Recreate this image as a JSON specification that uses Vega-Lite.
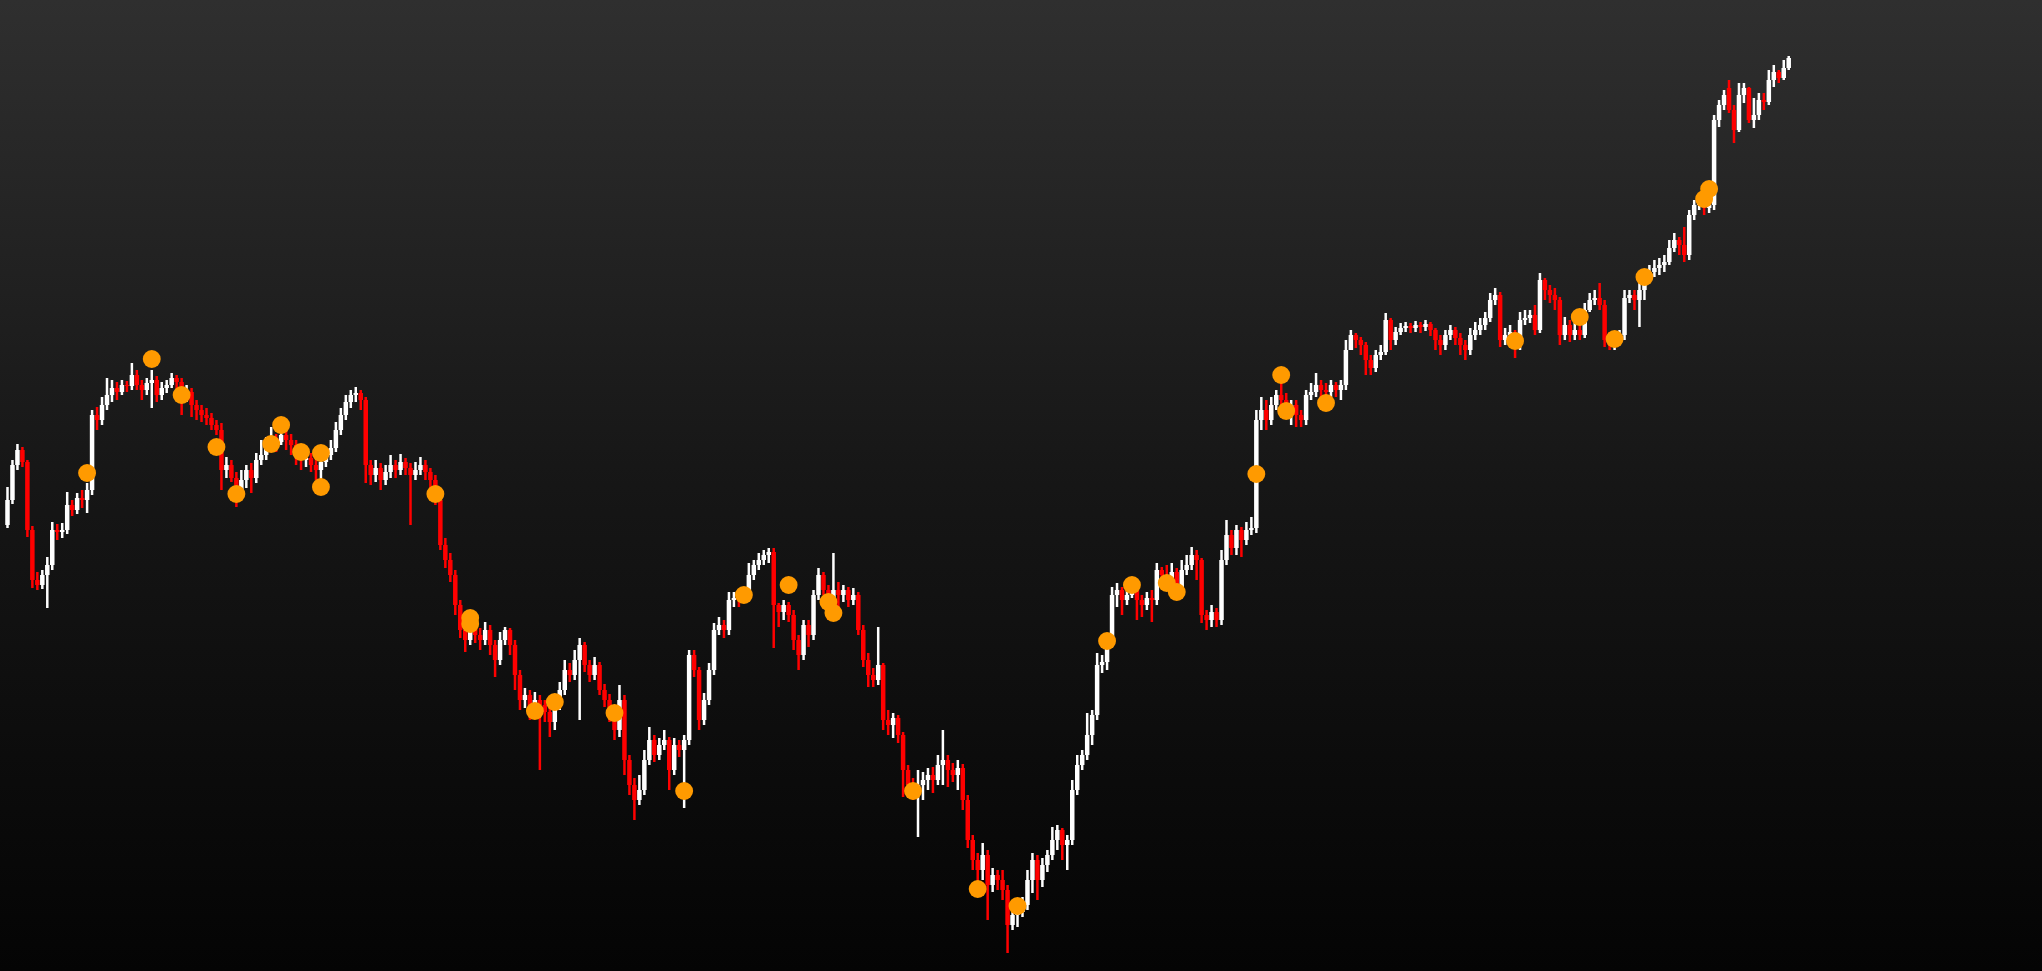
{
"$schema":"https://vega.github.io/schema/vega-lite/v6.json",
"width":2042,"height":971,"padding":0,
"autosize":{"type":"fit","contains":"padding"},
"background":"#050505",
"view":{"stroke":null,"fill":{"gradient":"linear","x1":0,"y1":0,"x2":0,"y2":1,"stops":[{"offset":0,"color":"#2f2f2f"},{"offset":0.5,"color":"#161616"},{"offset":1,"color":"#040404"}]}},
"config":{"view":{"stroke":null}},
"datasets":{
"candles":[
{"i":0,"o":475,"h":513,"l":472,"c":500},{"i":1,"o":500,"h":540,"l":496,"c":535},{"i":2,"o":535,"h":556,"l":530,"c":550},{"i":3,"o":550,"h":553,"l":533,"c":538},{"i":4,"o":538,"h":540,"l":463,"c":470},{"i":5,"o":470,"h":474,"l":412,"c":420},{"i":6,"o":420,"h":428,"l":410,"c":415},{"i":7,"o":415,"h":430,"l":411,"c":425},{"i":8,"o":425,"h":443,"l":392,"c":435},{"i":9,"o":435,"h":478,"l":430,"c":470},
{"i":10,"o":470,"h":476,"l":460,"c":468},{"i":11,"o":468,"h":477,"l":462,"c":470},{"i":12,"o":470,"h":508,"l":466,"c":495},{"i":13,"o":495,"h":500,"l":484,"c":490},{"i":14,"o":490,"h":507,"l":486,"c":502},{"i":15,"o":502,"h":510,"l":492,"c":500},{"i":16,"o":500,"h":517,"l":487,"c":510},{"i":17,"o":510,"h":590,"l":505,"c":585},{"i":18,"o":585,"h":593,"l":570,"c":580},{"i":19,"o":580,"h":603,"l":575,"c":595},
{"i":20,"o":595,"h":622,"l":590,"c":605},{"i":21,"o":605,"h":620,"l":598,"c":612},{"i":22,"o":612,"h":618,"l":600,"c":608},{"i":23,"o":608,"h":620,"l":605,"c":615},{"i":24,"o":615,"h":619,"l":608,"c":614},{"i":25,"o":614,"h":637,"l":610,"c":625},{"i":26,"o":625,"h":630,"l":610,"c":615},{"i":27,"o":615,"h":620,"l":600,"c":610},{"i":28,"o":610,"h":622,"l":605,"c":617},{"i":29,"o":617,"h":630,"l":592,"c":620},
{"i":30,"o":620,"h":624,"l":598,"c":605},{"i":31,"o":605,"h":618,"l":600,"c":612},{"i":32,"o":612,"h":620,"l":607,"c":615},{"i":33,"o":615,"h":627,"l":612,"c":622},{"i":34,"o":622,"h":625,"l":605,"c":618},{"i":35,"o":618,"h":622,"l":585,"c":605},{"i":36,"o":605,"h":615,"l":598,"c":608},{"i":37,"o":608,"h":612,"l":583,"c":595},{"i":38,"o":595,"h":600,"l":580,"c":590},{"i":39,"o":590,"h":595,"l":578,"c":585},
{"i":40,"o":585,"h":592,"l":575,"c":582},{"i":41,"o":582,"h":587,"l":570,"c":575},{"i":42,"o":575,"h":580,"l":565,"c":570},{"i":43,"o":570,"h":577,"l":510,"c":530},{"i":44,"o":530,"h":543,"l":522,"c":535},{"i":45,"o":535,"h":540,"l":518,"c":522},{"i":46,"o":522,"h":528,"l":493,"c":510},{"i":47,"o":510,"h":530,"l":505,"c":520},{"i":48,"o":520,"h":535,"l":512,"c":530},{"i":49,"o":530,"h":537,"l":507,"c":522},
{"i":50,"o":522,"h":547,"l":517,"c":540},{"i":51,"o":540,"h":560,"l":535,"c":545},{"i":52,"o":545,"h":563,"l":540,"c":555},{"i":53,"o":555,"h":573,"l":550,"c":562},{"i":54,"o":562,"h":566,"l":548,"c":558},{"i":55,"o":558,"h":575,"l":555,"c":565},{"i":56,"o":565,"h":570,"l":550,"c":560},{"i":57,"o":560,"h":566,"l":545,"c":555},{"i":58,"o":555,"h":560,"l":535,"c":545},{"i":59,"o":545,"h":550,"l":530,"c":540},
{"i":60,"o":540,"h":550,"l":533,"c":542},{"i":61,"o":542,"h":547,"l":528,"c":535},{"i":62,"o":535,"h":540,"l":520,"c":530},{"i":63,"o":530,"h":547,"l":513,"c":538},{"i":64,"o":538,"h":552,"l":533,"c":545},{"i":65,"o":545,"h":560,"l":540,"c":552},{"i":66,"o":552,"h":578,"l":548,"c":570},{"i":67,"o":570,"h":592,"l":565,"c":585},{"i":68,"o":585,"h":605,"l":580,"c":598},{"i":69,"o":598,"h":610,"l":592,"c":605},
{"i":70,"o":605,"h":613,"l":598,"c":607},{"i":71,"o":607,"h":610,"l":590,"c":600},{"i":72,"o":600,"h":603,"l":517,"c":535},{"i":73,"o":535,"h":540,"l":515,"c":525},{"i":74,"o":525,"h":540,"l":518,"c":532},{"i":75,"o":532,"h":537,"l":510,"c":520},{"i":76,"o":520,"h":535,"l":515,"c":528},{"i":77,"o":528,"h":545,"l":522,"c":535},{"i":78,"o":535,"h":540,"l":522,"c":530},{"i":79,"o":530,"h":546,"l":525,"c":538},
{"i":80,"o":538,"h":542,"l":525,"c":532},{"i":81,"o":532,"h":537,"l":475,"c":525},{"i":82,"o":525,"h":538,"l":520,"c":530},{"i":83,"o":530,"h":543,"l":525,"c":535},{"i":84,"o":535,"h":540,"l":520,"c":528},{"i":85,"o":528,"h":532,"l":512,"c":520},{"i":86,"o":520,"h":525,"l":495,"c":500},{"i":87,"o":500,"h":505,"l":450,"c":455},{"i":88,"o":455,"h":462,"l":432,"c":440},{"i":89,"o":440,"h":447,"l":418,"c":425},
{"i":90,"o":425,"h":430,"l":385,"c":395},{"i":91,"o":395,"h":400,"l":362,"c":370},{"i":92,"o":370,"h":375,"l":348,"c":360},{"i":93,"o":360,"h":380,"l":355,"c":372},{"i":94,"o":372,"h":378,"l":357,"c":365},{"i":95,"o":365,"h":372,"l":350,"c":360},{"i":96,"o":360,"h":378,"l":355,"c":370},{"i":97,"o":370,"h":375,"l":345,"c":355},{"i":98,"o":355,"h":360,"l":323,"c":340},{"i":99,"o":340,"h":368,"l":335,"c":360},
{"i":100,"o":360,"h":373,"l":355,"c":370},{"i":101,"o":370,"h":372,"l":345,"c":355},{"i":102,"o":355,"h":360,"l":310,"c":325},{"i":103,"o":325,"h":330,"l":290,"c":300},{"i":104,"o":300,"h":312,"l":292,"c":305},{"i":105,"o":305,"h":310,"l":280,"c":290},{"i":106,"o":290,"h":308,"l":285,"c":300},{"i":107,"o":300,"h":305,"l":230,"c":295},{"i":108,"o":295,"h":300,"l":278,"c":288},{"i":109,"o":288,"h":292,"l":263,"c":278},
{"i":110,"o":278,"h":303,"l":270,"c":295},{"i":111,"o":295,"h":318,"l":290,"c":310},{"i":112,"o":310,"h":340,"l":305,"c":330},{"i":113,"o":330,"h":337,"l":318,"c":325},{"i":114,"o":325,"h":350,"l":320,"c":340},{"i":115,"o":340,"h":362,"l":280,"c":355},{"i":116,"o":355,"h":358,"l":328,"c":335},{"i":117,"o":335,"h":340,"l":318,"c":325},{"i":118,"o":325,"h":343,"l":320,"c":335},{"i":119,"o":335,"h":338,"l":305,"c":310},
{"i":120,"o":310,"h":316,"l":293,"c":300},{"i":121,"o":300,"h":306,"l":278,"c":285},{"i":122,"o":285,"h":290,"l":260,"c":270},{"i":123,"o":270,"h":315,"l":263,"c":300},{"i":124,"o":300,"h":305,"l":225,"c":240},{"i":125,"o":240,"h":245,"l":205,"c":215},{"i":126,"o":215,"h":222,"l":180,"c":200},{"i":127,"o":200,"h":225,"l":195,"c":210},{"i":128,"o":210,"h":250,"l":205,"c":240},{"i":129,"o":240,"h":273,"l":235,"c":260},
{"i":130,"o":260,"h":265,"l":238,"c":245},{"i":131,"o":245,"h":262,"l":240,"c":255},{"i":132,"o":255,"h":270,"l":250,"c":260},{"i":133,"o":260,"h":263,"l":210,"c":230},{"i":134,"o":230,"h":262,"l":225,"c":255},{"i":135,"o":255,"h":260,"l":243,"c":250},{"i":136,"o":250,"h":265,"l":192,"c":260},{"i":137,"o":260,"h":350,"l":255,"c":345},{"i":138,"o":345,"h":350,"l":323,"c":330},{"i":139,"o":330,"h":333,"l":270,"c":280},
{"i":140,"o":280,"h":307,"l":275,"c":300},{"i":141,"o":300,"h":337,"l":295,"c":330},{"i":142,"o":330,"h":377,"l":325,"c":370},{"i":143,"o":370,"h":383,"l":365,"c":375},{"i":144,"o":375,"h":380,"l":362,"c":370},{"i":145,"o":370,"h":408,"l":365,"c":400},{"i":146,"o":400,"h":408,"l":393,"c":402},{"i":147,"o":402,"h":407,"l":393,"c":400},{"i":148,"o":400,"h":412,"l":397,"c":405},{"i":149,"o":405,"h":437,"l":400,"c":425},
{"i":150,"o":425,"h":440,"l":420,"c":435},{"i":151,"o":435,"h":447,"l":430,"c":440},{"i":152,"o":440,"h":450,"l":435,"c":445},{"i":153,"o":445,"h":452,"l":437,"c":448},{"i":154,"o":448,"h":452,"l":352,"c":395},{"i":155,"o":395,"h":397,"l":373,"c":388},{"i":156,"o":388,"h":400,"l":380,"c":395},{"i":157,"o":395,"h":398,"l":378,"c":385},{"i":158,"o":385,"h":390,"l":350,"c":360},{"i":159,"o":360,"h":365,"l":330,"c":345},
{"i":160,"o":345,"h":380,"l":340,"c":375},{"i":161,"o":375,"h":380,"l":353,"c":365},{"i":162,"o":365,"h":410,"l":360,"c":405},{"i":163,"o":405,"h":432,"l":400,"c":425},{"i":164,"o":425,"h":428,"l":405,"c":410},{"i":165,"o":410,"h":415,"l":380,"c":400},{"i":166,"o":400,"h":447,"l":395,"c":410},{"i":167,"o":410,"h":418,"l":385,"c":405},{"i":168,"o":405,"h":415,"l":398,"c":410},{"i":169,"o":410,"h":413,"l":393,"c":400},
{"i":170,"o":400,"h":412,"l":395,"c":405},{"i":171,"o":405,"h":408,"l":365,"c":370},{"i":172,"o":370,"h":375,"l":333,"c":340},{"i":173,"o":340,"h":347,"l":313,"c":325},{"i":174,"o":325,"h":332,"l":313,"c":320},{"i":175,"o":320,"h":373,"l":315,"c":335},{"i":176,"o":335,"h":337,"l":270,"c":280},{"i":177,"o":280,"h":290,"l":265,"c":275},{"i":178,"o":275,"h":287,"l":262,"c":282},{"i":179,"o":282,"h":285,"l":257,"c":265},
{"i":180,"o":265,"h":268,"l":203,"c":230},{"i":181,"o":230,"h":235,"l":203,"c":215},{"i":182,"o":215,"h":222,"l":200,"c":210},{"i":183,"o":210,"h":230,"l":163,"c":215},{"i":184,"o":215,"h":228,"l":200,"c":220},{"i":185,"o":220,"h":232,"l":210,"c":225},{"i":186,"o":225,"h":233,"l":207,"c":220},{"i":187,"o":220,"h":245,"l":215,"c":235},{"i":188,"o":235,"h":270,"l":215,"c":240},{"i":189,"o":240,"h":245,"l":213,"c":230},
{"i":190,"o":230,"h":237,"l":218,"c":225},{"i":191,"o":225,"h":240,"l":210,"c":232},{"i":192,"o":232,"h":236,"l":190,"c":200},{"i":193,"o":200,"h":205,"l":152,"c":160},{"i":194,"o":160,"h":165,"l":130,"c":140},{"i":195,"o":140,"h":147,"l":113,"c":130},{"i":196,"o":130,"h":157,"l":120,"c":145},{"i":197,"o":145,"h":150,"l":80,"c":115},{"i":198,"o":115,"h":132,"l":108,"c":125},{"i":199,"o":125,"h":130,"l":110,"c":120},
{"i":200,"o":120,"h":130,"l":100,"c":110},{"i":201,"o":110,"h":115,"l":47,"c":75},{"i":202,"o":75,"h":92,"l":70,"c":85},{"i":203,"o":85,"h":95,"l":73,"c":88},{"i":204,"o":88,"h":103,"l":83,"c":95},{"i":205,"o":95,"h":130,"l":90,"c":120},{"i":206,"o":120,"h":147,"l":107,"c":140},{"i":207,"o":140,"h":145,"l":100,"c":120},{"i":208,"o":120,"h":142,"l":113,"c":135},{"i":209,"o":135,"h":150,"l":128,"c":145},
{"i":210,"o":145,"h":173,"l":140,"c":160},{"i":211,"o":160,"h":175,"l":150,"c":170},{"i":212,"o":170,"h":172,"l":140,"c":155},{"i":213,"o":155,"h":165,"l":130,"c":160},{"i":214,"o":160,"h":220,"l":155,"c":210},{"i":215,"o":210,"h":245,"l":205,"c":235},{"i":216,"o":235,"h":250,"l":230,"c":245},{"i":217,"o":245,"h":287,"l":240,"c":265},{"i":218,"o":265,"h":290,"l":255,"c":285},{"i":219,"o":285,"h":347,"l":280,"c":335},
{"i":220,"o":335,"h":345,"l":327,"c":338},{"i":221,"o":338,"h":367,"l":330,"c":360},{"i":222,"o":360,"h":413,"l":355,"c":405},{"i":223,"o":405,"h":417,"l":393,"c":410},{"i":224,"o":410,"h":413,"l":385,"c":400},{"i":225,"o":400,"h":415,"l":395,"c":405},{"i":226,"o":405,"h":420,"l":402,"c":410},{"i":227,"o":410,"h":413,"l":380,"c":400},{"i":228,"o":400,"h":405,"l":383,"c":395},{"i":229,"o":395,"h":408,"l":390,"c":402},
{"i":230,"o":402,"h":410,"l":378,"c":400},{"i":231,"o":400,"h":437,"l":395,"c":430},{"i":232,"o":430,"h":433,"l":415,"c":425},{"i":233,"o":425,"h":435,"l":412,"c":420},{"i":234,"o":420,"h":437,"l":417,"c":428},{"i":235,"o":428,"h":432,"l":400,"c":410},{"i":236,"o":410,"h":440,"l":405,"c":430},{"i":237,"o":430,"h":445,"l":425,"c":435},{"i":238,"o":435,"h":453,"l":430,"c":445},{"i":239,"o":445,"h":450,"l":420,"c":440},
{"i":240,"o":440,"h":442,"l":377,"c":385},{"i":241,"o":385,"h":390,"l":370,"c":380},{"i":242,"o":380,"h":395,"l":373,"c":388},{"i":243,"o":388,"h":392,"l":373,"c":380},{"i":244,"o":380,"h":450,"l":375,"c":440},{"i":245,"o":440,"h":480,"l":435,"c":465},{"i":246,"o":465,"h":470,"l":445,"c":452},{"i":247,"o":452,"h":475,"l":445,"c":470},{"i":248,"o":470,"h":473,"l":443,"c":460},{"i":249,"o":460,"h":478,"l":455,"c":470},
{"i":250,"o":470,"h":483,"l":465,"c":472},{"i":251,"o":472,"h":590,"l":467,"c":580},{"i":252,"o":580,"h":603,"l":570,"c":590},{"i":253,"o":590,"h":600,"l":570,"c":580},{"i":254,"o":580,"h":603,"l":575,"c":595},{"i":255,"o":595,"h":610,"l":590,"c":605},{"i":256,"o":605,"h":617,"l":593,"c":600},{"i":257,"o":600,"h":607,"l":583,"c":590},{"i":258,"o":590,"h":600,"l":575,"c":595},{"i":259,"o":595,"h":600,"l":573,"c":585},
{"i":260,"o":585,"h":590,"l":573,"c":580},{"i":261,"o":580,"h":610,"l":575,"c":605},{"i":262,"o":605,"h":617,"l":600,"c":608},{"i":263,"o":608,"h":627,"l":603,"c":615},{"i":264,"o":615,"h":620,"l":600,"c":610},{"i":265,"o":610,"h":617,"l":600,"c":608},{"i":266,"o":608,"h":620,"l":603,"c":615},{"i":267,"o":615,"h":618,"l":603,"c":610},{"i":268,"o":610,"h":620,"l":600,"c":615},{"i":269,"o":615,"h":660,"l":610,"c":650},
{"i":270,"o":650,"h":670,"l":650,"c":665},{"i":271,"o":665,"h":667,"l":652,"c":660},{"i":272,"o":660,"h":663,"l":645,"c":655},{"i":273,"o":655,"h":658,"l":625,"c":640},{"i":274,"o":640,"h":645,"l":625,"c":632},{"i":275,"o":632,"h":650,"l":628,"c":645},{"i":276,"o":645,"h":655,"l":640,"c":648},{"i":277,"o":648,"h":687,"l":645,"c":680},{"i":278,"o":680,"h":682,"l":650,"c":660},{"i":279,"o":660,"h":673,"l":655,"c":668},
{"i":280,"o":668,"h":677,"l":665,"c":672},{"i":281,"o":672,"h":678,"l":668,"c":674},{"i":282,"o":674,"h":677,"l":667,"c":672},{"i":283,"o":672,"h":679,"l":668,"c":675},{"i":284,"o":675,"h":678,"l":667,"c":673},{"i":285,"o":673,"h":680,"l":669,"c":676},{"i":286,"o":676,"h":678,"l":664,"c":670},{"i":287,"o":670,"h":672,"l":650,"c":660},{"i":288,"o":660,"h":665,"l":645,"c":655},{"i":289,"o":655,"h":670,"l":650,"c":665},
{"i":290,"o":665,"h":675,"l":660,"c":670},{"i":291,"o":670,"h":673,"l":655,"c":662},{"i":292,"o":662,"h":667,"l":645,"c":655},{"i":293,"o":655,"h":660,"l":640,"c":650},{"i":294,"o":650,"h":672,"l":645,"c":665},{"i":295,"o":665,"h":678,"l":660,"c":670},{"i":296,"o":670,"h":682,"l":665,"c":675},{"i":297,"o":675,"h":688,"l":670,"c":682},{"i":298,"o":682,"h":707,"l":678,"c":700},{"i":299,"o":700,"h":712,"l":695,"c":705},
{"i":300,"o":705,"h":708,"l":653,"c":660},{"i":301,"o":660,"h":672,"l":655,"c":665},{"i":302,"o":665,"h":675,"l":658,"c":668},{"i":303,"o":668,"h":670,"l":642,"c":655},{"i":304,"o":655,"h":688,"l":650,"c":680},{"i":305,"o":680,"h":690,"l":675,"c":682},{"i":306,"o":682,"h":690,"l":677,"c":685},{"i":307,"o":685,"h":695,"l":665,"c":670},{"i":308,"o":670,"h":727,"l":667,"c":720},{"i":309,"o":720,"h":722,"l":700,"c":710},
{"i":310,"o":710,"h":715,"l":697,"c":705},{"i":311,"o":705,"h":712,"l":690,"c":700},{"i":312,"o":700,"h":703,"l":655,"c":665},{"i":313,"o":665,"h":683,"l":660,"c":675},{"i":314,"o":675,"h":680,"l":658,"c":665},{"i":315,"o":665,"h":677,"l":660,"c":670},{"i":316,"o":670,"h":690,"l":660,"c":665},{"i":317,"o":665,"h":697,"l":662,"c":690},{"i":318,"o":690,"h":707,"l":688,"c":700},{"i":319,"o":700,"h":710,"l":695,"c":702},
{"i":320,"o":702,"h":717,"l":690,"c":695},{"i":321,"o":695,"h":700,"l":653,"c":660},{"i":322,"o":660,"h":668,"l":650,"c":655},{"i":323,"o":655,"h":665,"l":650,"c":660},{"i":324,"o":660,"h":670,"l":655,"c":665},{"i":325,"o":665,"h":710,"l":660,"c":702},{"i":326,"o":702,"h":710,"l":697,"c":705},{"i":327,"o":705,"h":710,"l":690,"c":700},{"i":328,"o":700,"h":717,"l":673,"c":710},{"i":329,"o":710,"h":727,"l":700,"c":720},
{"i":330,"o":720,"h":735,"l":718,"c":728},{"i":331,"o":728,"h":740,"l":723,"c":732},{"i":332,"o":732,"h":742,"l":725,"c":735},{"i":333,"o":735,"h":745,"l":728,"c":738},{"i":334,"o":738,"h":760,"l":735,"c":752},{"i":335,"o":752,"h":767,"l":748,"c":760},{"i":336,"o":760,"h":763,"l":745,"c":755},{"i":337,"o":755,"h":773,"l":738,"c":745},{"i":338,"o":745,"h":790,"l":740,"c":785},{"i":339,"o":785,"h":800,"l":780,"c":795},
{"i":340,"o":795,"h":798,"l":790,"c":796},{"i":341,"o":796,"h":800,"l":785,"c":792},{"i":342,"o":792,"h":805,"l":787,"c":795},{"i":343,"o":795,"h":885,"l":790,"c":880},{"i":344,"o":880,"h":900,"l":873,"c":895},{"i":345,"o":895,"h":910,"l":890,"c":905},{"i":346,"o":912,"h":920,"l":887,"c":890},{"i":347,"o":890,"h":895,"l":857,"c":870},{"i":348,"o":870,"h":917,"l":868,"c":905},{"i":349,"o":905,"h":917,"l":897,"c":912},
{"i":350,"o":912,"h":913,"l":877,"c":880},{"i":351,"o":880,"h":902,"l":872,"c":885},{"i":352,"o":885,"h":907,"l":880,"c":900},{"i":353,"o":900,"h":907,"l":890,"c":898},{"i":354,"o":898,"h":930,"l":895,"c":920},{"i":355,"o":920,"h":935,"l":913,"c":928},{"i":356,"o":928,"h":930,"l":917,"c":922},{"i":357,"o":922,"h":940,"l":920,"c":932},{"i":358,"o":932,"h":944,"l":930,"c":942}
],
"dots":[
{"i":16,"p":527},{"i":29,"p":641},{"i":35,"p":605},{"i":42,"p":553},{"i":46,"p":506},{"i":53,"p":556},{"i":55,"p":575},{"i":59,"p":548},{"i":63,"p":547},{"i":63,"p":513},
{"i":86,"p":506},{"i":93,"p":382},{"i":93,"p":376},{"i":106,"p":289},{"i":110,"p":298},{"i":122,"p":287},{"i":136,"p":209},{"i":148,"p":405},{"i":157,"p":415},{"i":165,"p":398},
{"i":166,"p":387},{"i":182,"p":209},{"i":195,"p":111},{"i":203,"p":94},{"i":221,"p":359},{"i":226,"p":415},{"i":233,"p":417},{"i":235,"p":408},{"i":251,"p":526},{"i":256,"p":625},
{"i":257,"p":589},{"i":265,"p":597},{"i":303,"p":659},{"i":316,"p":683},{"i":323,"p":661},{"i":329,"p":723},{"i":341,"p":801},{"i":342,"p":811}
]
},
"layer":[
{"data":{"name":"candles"},
 "encoding":{"x":{"field":"i","type":"quantitative","scale":{"domain":[-0.5,407.9],"nice":false,"zero":false},
   "axis":{"values":[0.9,9.1,13.7,22.3,30.5,35.1,43.7,51.9,56.5,65.1,73.3,77.9,86.5,94.7,99.3,107.9,116.1,120.7,129.3,137.5,142.1,150.7,158.9,163.5,172.1,180.3,184.9,193.5,201.7,206.3,214.9,223.1,227.7,236.3,244.5,249.1,257.7,265.9,270.5,279.1,287.3,291.9,300.5,308.7,313.3,321.9,330.1,334.7,343.3,351.5,356.1,364.7,372.9,377.5,386.1,394.3,398.9,407.5],
     "labels":false,"ticks":false,"domain":false,"title":null,"grid":true,"gridColor":"#ffffff","gridOpacity":0.1,"gridDash":[1,3],"gridWidth":1}},
  "color":{"condition":{"test":"datum.c >= datum.o","value":"#ffffff"},"value":"#ff0000"}},
 "layer":[
  {"mark":{"type":"rule","strokeWidth":2.5},
   "encoding":{"y":{"field":"l","type":"quantitative","scale":{"domain":[29,1000],"nice":false,"zero":false},
     "axis":{"values":[39.6,108.4,177.2,246,314.8,383.6,452.4,521.2,590,658.8,727.6,796.4,865.2,934],
       "labels":false,"ticks":false,"domain":false,"title":null,"grid":true,"gridColor":"#ffffff","gridOpacity":0.1,"gridDash":[1,3],"gridWidth":1}},
    "y2":{"field":"h"}}},
  {"mark":{"type":"bar","width":4.5},
   "encoding":{"y":{"field":"o","type":"quantitative","scale":{"domain":[29,1000],"nice":false,"zero":false},"axis":null},
    "y2":{"field":"c"}}}
 ]},
{"data":{"name":"dots"},
 "mark":{"type":"circle","size":320,"color":"#ff9a00","opacity":1},
 "encoding":{"x":{"field":"i","type":"quantitative","scale":{"domain":[-0.5,407.9],"nice":false,"zero":false},"axis":null},
  "y":{"field":"p","type":"quantitative","scale":{"domain":[29,1000],"nice":false,"zero":false},"axis":null}}}
]
}
